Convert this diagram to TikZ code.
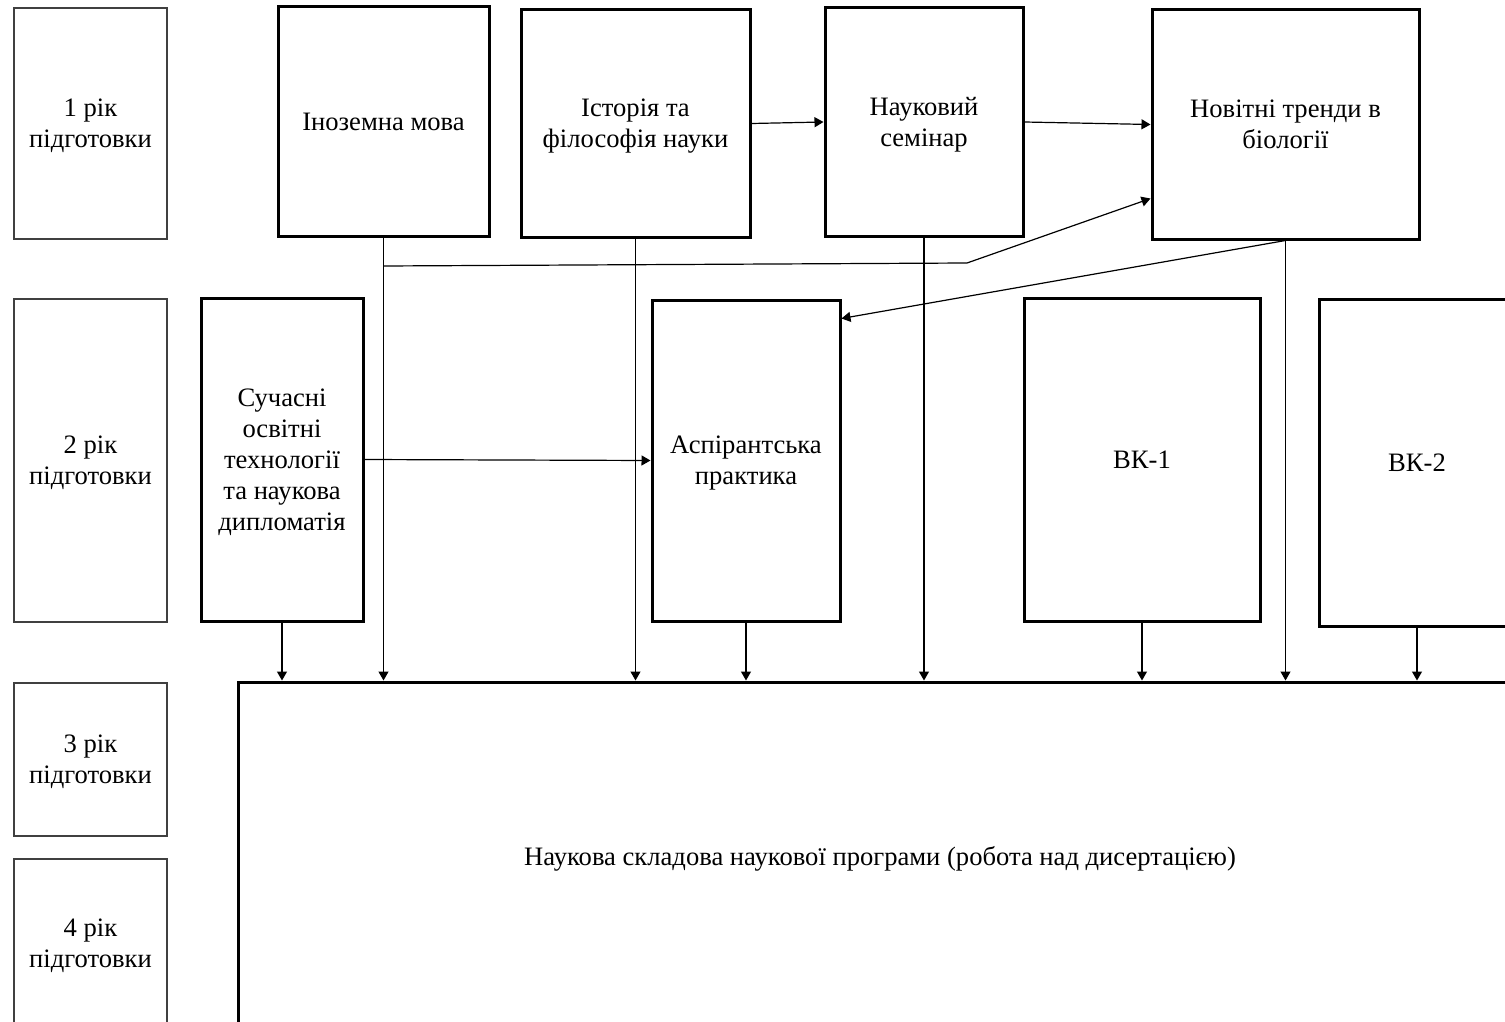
\documentclass[tikz,border=0pt]{standalone}
\usepackage{fontspec}
\setmainfont{Liberation Serif}
\usetikzlibrary{arrows.meta,calc}

\begin{document}
\begin{tikzpicture}[x=0.5pt,y=-0.5pt,
    yearbox/.style={draw=black!75,line width=0.7pt,align=center,inner sep=0pt,text depth=0pt},
    course/.style={draw,line width=1.5pt,align=center,inner sep=0pt,text depth=0pt},
    link/.style={line width=0.6pt,-{Triangle[length=4.5pt,width=5pt]}},
    every node/.style={font=\fontsize{13.3}{15.5}\selectfont}]

    \useasboundingbox (0,0) rectangle (1505,1022);
    \clip (0,0) rectangle (1505,1022);

    % Years of study (left column)
    \node[yearbox,minimum width=76.5pt,minimum height=115.5pt] (y1) at (90.5,123.5) {1 рік\\підготовки};
    \node[yearbox,minimum width=76.5pt,minimum height=161.5pt] (y2) at (90.5,460.5) {2 рік\\підготовки};
    \node[yearbox,minimum width=76.5pt,minimum height=76.5pt] (y3) at (90.5,759.5) {3 рік\\підготовки};
    \node[yearbox,minimum width=76.5pt,minimum height=84pt] (y4) at (90.5,943) {4 рік\\підготовки};

    % First year courses
    \node[course,minimum width=105.5pt,minimum height=114.5pt] (inoz) at (383.5,121.5) {Іноземна мова};
    \node[course,minimum width=114.5pt,minimum height=113.5pt] (istor) at (635.5,123.5) {Історія та\\філософія науки};
    \node[course,minimum width=99pt,minimum height=114pt] (semin) at (924,122) {Науковий\\семінар};
    \node[course,minimum width=133.5pt,minimum height=114.5pt] (trend) at (1285.5,124.5) {Новітні тренди в\\біології};

    % Second year courses
    \node[course,minimum width=81pt,minimum height=161.5pt] (osvit) at (282,459.5) {Сучасні\\освітні\\технології\\та наукова\\дипломатія};
    \node[course,minimum width=94pt,minimum height=160.5pt] (prakt) at (746,460.5) {Аспірантська\\практика};
    \node[course,minimum width=118pt,minimum height=161.5pt] (vk1) at (1142,459.5) {ВК-1};
    \node[course,minimum width=98pt,minimum height=163.5pt] (vk2) at (1417,462.5) {ВК-2};

    % Research part (years 3 and 4)
    \node[course,minimum width=642pt,minimum height=174pt] (dys) at (880,856) {Наукова складова наукової програми (робота над дисертацією)};

    % Horizontal links in the first row
    \draw[link] (istor.east) -- (semin.west);
    \draw[link] (semin.east) -- (trend.west);

    % Branch from Іноземна мова up to Новітні тренди
    \coordinate (split) at (inoz.south |- 0,266);
    \coordinate (bend) at (967,263);
    \draw[link] (split) -- (bend) -- ($(trend.south west)+(0,-42)$);

    % Новітні тренди -> Аспірантська практика
    \draw[link] (trend.south) -- ($(prakt.north east)+(0,20)$);

    % Second row link
    \draw[link] (osvit.east) -- (prakt.west);

    % Everything goes down into the research part
    \foreach \c in {osvit,inoz,istor,prakt,semin,vk1,trend,vk2}
        \draw[link] (\c.south) -- (\c.south |- dys.north);

\end{tikzpicture}
\end{document}
